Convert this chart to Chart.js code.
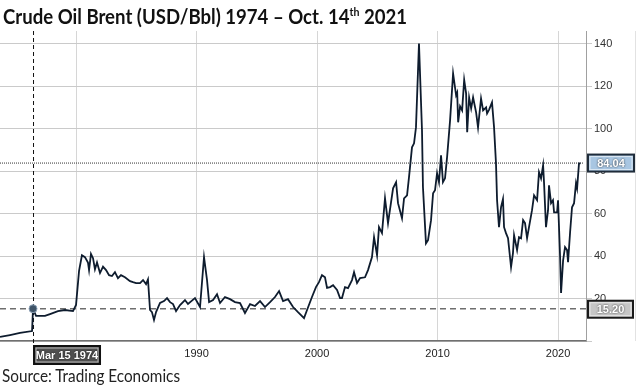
<!DOCTYPE html>
<html lang="en">
<head>
<meta charset="UTF-8">
<title>Crude Oil Brent (USD/Bbl) 1974 – Oct. 14th 2021</title>
<script src="https://cdn.jsdelivr.net/npm/chart.js"></script>
<style>
    body { margin: 0; background: #fff; font-family: Lato, Arial, sans-serif; }
    .wrap { position: relative; width: 639px; height: 390px; }
    .title { position: absolute; left: 3px; top: 3px; font-weight: bold; font-size: 21px; color: #111; white-space: nowrap; transform: scaleX(0.885); transform-origin: left top; }
    .title sup { font-size: 12px; vertical-align: 8px; line-height: 0; }
    .source { position: absolute; left: 2px; top: 365px; font-size: 17px; color: #222; white-space: nowrap; transform: scaleX(0.9); transform-origin: left top; }
    canvas { position: absolute; left: 0; top: 0; }
</style>
</head>
<body>
<div class="wrap">
    <canvas id="brentChart" width="639" height="390"></canvas>
    <div class="title">Crude Oil Brent (USD/Bbl) 1974 – Oct. 14<sup>th</sup> 2021</div>
    <div class="source">Source: Trading Economics</div>
</div>

<script>
// values (decimal years, USD per barrel)
const years = [
    1973.69, 1974.52, 1975.35, 1976.35, 1976.43, 1976.68, 1977.42, 1977.84, 1978.50, 1979.08,
    1979.75, 1980.00, 1980.25, 1980.49, 1980.74, 1980.99, 1981.08, 1981.24, 1981.41, 1981.57,
    1981.74, 1981.99, 1982.24, 1982.49, 1982.74, 1982.98, 1983.23, 1983.48, 1983.73, 1984.06,
    1984.48, 1984.73, 1984.98, 1985.31, 1985.56, 1985.81, 1985.97, 1986.14, 1986.30, 1986.47,
    1986.64, 1986.97, 1987.30, 1987.55, 1987.80, 1988.05, 1988.30, 1988.63, 1989.04, 1989.29,
    1989.62, 1989.87, 1990.29, 1990.62, 1990.87, 1991.04, 1991.37, 1991.70, 1991.95, 1992.36,
    1992.78, 1993.19, 1993.61, 1994.02, 1994.44, 1994.85, 1995.27, 1995.68, 1996.10, 1996.51,
    1996.85, 1997.18, 1997.59, 1998.01, 1998.42, 1998.92, 1999.17, 1999.58, 1999.91, 2000.16,
    2000.41, 2000.66, 2000.83, 2001.08, 2001.33, 2001.66, 2001.91, 2002.07, 2002.32, 2002.57,
    2002.90, 2003.07, 2003.32, 2003.57, 2003.98, 2004.23, 2004.56, 2004.73, 2004.98, 2005.14,
    2005.39, 2005.64, 2005.89, 2006.14, 2006.31, 2006.56, 2006.72, 2007.05, 2007.22, 2007.47,
    2007.63, 2007.88, 2008.05, 2008.21, 2008.46, 2008.71, 2008.79, 2009.04, 2009.21, 2009.46,
    2009.63, 2009.79, 2009.96, 2010.12, 2010.29, 2010.45, 2010.62, 2010.79, 2011.04, 2011.29,
    2011.54, 2011.63, 2011.71, 2011.87, 2012.04, 2012.21, 2012.37, 2012.46, 2012.62, 2012.79,
    2012.95, 2013.20, 2013.36, 2013.61, 2013.78, 2014.03, 2014.11, 2014.28, 2014.52, 2014.69,
    2014.85, 2014.94, 2015.10, 2015.27, 2015.43, 2015.52, 2015.68, 2015.85, 2016.10, 2016.26,
    2016.35, 2016.60, 2016.76, 2016.93, 2017.10, 2017.26, 2017.43, 2017.59, 2017.84, 2018.01,
    2018.26, 2018.42, 2018.59, 2018.76, 2018.84, 2019.00, 2019.17, 2019.25, 2019.42, 2019.58,
    2019.67, 2019.92, 2020.00, 2020.17, 2020.25, 2020.42, 2020.58, 2020.75, 2020.83, 2021.00,
    2021.16, 2021.33, 2021.49, 2021.58, 2021.74, 2021.79
];
const brent = [
    1.9, 2.8, 3.8, 4.7, 15.2, 11.8, 11.8, 12.7, 14.1, 14.6,
    14.1, 17.0, 33.0, 40.4, 39.5, 37.0, 33.4, 41.0, 39.0, 33.8,
    37.0, 32.0, 35.0, 33.4, 31.0, 30.6, 32.4, 29.6, 31.0, 30.0,
    28.2, 27.7, 27.3, 27.3, 28.7, 26.8, 29.0, 14.6, 13.6, 9.9,
    13.6, 17.9, 18.8, 20.2, 18.3, 17.4, 14.1, 16.9, 19.3, 17.4,
    19.0, 20.2, 16.0, 39.5, 28.7, 18.3, 19.3, 22.0, 17.9, 20.7,
    19.7, 18.3, 17.9, 13.2, 17.4, 16.5, 18.8, 16.0, 18.3, 20.7,
    23.5, 18.8, 19.7, 16.0, 13.6, 10.8, 14.6, 20.7, 25.4, 27.7,
    31.0, 30.0, 25.0, 25.4, 26.3, 24.0, 20.2, 20.2, 25.4, 24.9,
    28.7, 32.4, 27.3, 29.6, 30.0, 33.4, 39.5, 48.9, 40.4, 53.6,
    50.8, 67.2, 55.5, 65.3, 71.9, 74.8, 64.9, 57.8, 67.2, 68.6,
    77.1, 91.2, 93.1, 100.6, 140.1, 99.2, 72.4, 46.0, 47.5, 56.9,
    69.6, 71.0, 79.0, 74.8, 87.4, 74.8, 76.6, 86.5, 103.9, 126.0,
    115.7, 117.0, 103.0, 110.5, 108.6, 123.0, 116.6, 98.3, 114.7, 109.5,
    114.7, 107.7, 100.6, 114.2, 108.6, 110.0, 107.2, 109.0, 112.4, 100.6,
    83.7, 66.3, 53.6, 63.0, 66.8, 53.6, 50.8, 48.4, 34.8, 41.4,
    49.8, 42.8, 48.9, 48.4, 56.9, 55.5, 48.4, 53.6, 61.6, 68.6,
    66.3, 79.5, 76.6, 82.7, 74.3, 53.6, 61.6, 73.3, 64.9, 66.3,
    60.6, 60.6, 66.3, 39.5, 22.6, 38.0, 44.2, 42.8, 37.1, 51.2,
    63.0, 64.9, 74.3, 71.9, 83.7, 84.04
];
const xTickYears = [1980, 1990, 2000, 2010, 2020];
const yTickValues = [0, 20, 40, 60, 80, 100, 120, 140];
const markYear = 1976.43;
const markPrice = 15.20;
const markLabel = 'Mar 15 1974';
const lastPrice = 84.04;

// little label box like the ones on the axis
function drawBox(ctx, x, y, w, h, text, fill, border) {
    ctx.save();
    ctx.fillStyle = fill;
    ctx.fillRect(x, y, w, h);
    ctx.strokeStyle = border;
    ctx.lineWidth = 2;
    ctx.strokeRect(x, y, w, h);
    ctx.strokeStyle = 'rgba(255,255,255,0.6)';
    ctx.lineWidth = 1;
    ctx.strokeRect(x + 2, y + 2, w - 4, h - 4);
    ctx.font = 'bold 11px Arial';
    ctx.textAlign = 'center';
    ctx.textBaseline = 'middle';
    ctx.shadowColor = 'rgba(0,0,0,0.8)';
    ctx.shadowBlur = 2;
    ctx.fillStyle = '#fff';
    ctx.fillText(text, x + w / 2, y + h / 2 + 1);
    ctx.restore();
}

const markers = {
    id: 'markers',
    beforeDatasetsDraw(chart) {
        const { ctx, chartArea: a, scales: { x, y } } = chart;
        const mx = x.getPixelForValue(markYear);
        const my = y.getPixelForValue(markPrice);
        const ly = y.getPixelForValue(lastPrice);
        ctx.save();
        // current price, dotted
        ctx.strokeStyle = '#333';
        ctx.lineWidth = 1;
        ctx.setLineDash([1, 1]);
        ctx.beginPath();
        ctx.moveTo(a.left, ly + 0.5);
        ctx.lineTo(a.right - 3, ly + 0.5);
        ctx.stroke();
        // start price, dashed
        ctx.strokeStyle = '#6e6e6e';
        ctx.lineWidth = 1.5;
        ctx.setLineDash([6, 4]);
        ctx.beginPath();
        ctx.moveTo(a.left, my);
        ctx.lineTo(a.right, my);
        ctx.stroke();
        // crosshair
        ctx.strokeStyle = '#111';
        ctx.lineWidth = 1;
        ctx.setLineDash([4, 3]);
        ctx.beginPath();
        ctx.moveTo(mx + 0.5, a.top);
        ctx.lineTo(mx + 0.5, a.bottom + 5);
        ctx.stroke();
        ctx.restore();
    },
    afterDraw(chart) {
        const { ctx, chartArea: a, scales: { x, y } } = chart;
        const mx = x.getPixelForValue(markYear);
        const my = y.getPixelForValue(markPrice);
        const ly = y.getPixelForValue(lastPrice);
        ctx.save();
        // thin frame on the far right
        ctx.strokeStyle = '#e2e2e2';
        ctx.lineWidth = 1;
        ctx.beginPath();
        ctx.moveTo(chart.width - 3.5, a.top);
        ctx.lineTo(chart.width - 3.5, a.bottom);
        ctx.stroke();
        // point on the crosshair
        ctx.beginPath();
        ctx.arc(mx, my, 4, 0, Math.PI * 2);
        ctx.fillStyle = '#3f5468';
        ctx.fill();
        ctx.strokeStyle = '#8ea3b8';
        ctx.lineWidth = 1;
        ctx.stroke();
        ctx.restore();

        drawBox(ctx, a.right + 2, ly - 8, 46, 17, lastPrice.toFixed(2), '#a8c6e2', '#1f2c3a');
        drawBox(ctx, a.right + 2, my - 8, 45, 17, markPrice.toFixed(2), '#c6c6c6', '#1a1a1a');
        drawBox(ctx, mx + 1, a.bottom + 5, 66, 18, markLabel, '#505050', '#111');
    }
};

const ctx = document.getElementById('brentChart').getContext('2d');

const brentChart = new Chart(ctx, {
    type: 'line',
    data: {
        datasets: [{
            label: 'Brent',
            data: years.map((yr, i) => ({ x: yr, y: brent[i] })),
            borderColor: '#0e1c2e',
            borderWidth: 1.8,
            pointRadius: 0,
            tension: 0,
            fill: false
        }]
    },
    options: {
        responsive: false,
        animation: false,
        layout: { padding: { top: 31, left: 0, right: 0, bottom: 0 } },
        plugins: {
            legend: { display: false },
            tooltip: { enabled: false }
        },
        scales: {
            x: {
                type: 'linear',
                min: 1973.69,
                max: 2022.32,
                afterBuildTicks: (scale) => { scale.ticks = xTickYears.map(v => ({ value: v })); },
                afterFit: (scale) => { scale.height = 49; },
                grid: { color: '#d6d6d6', drawTicks: false },
                border: { display: true, color: '#707070', width: 1.5 },
                ticks: {
                    padding: 6,
                    color: '#222',
                    font: { family: 'Arial', size: 11 },
                    maxRotation: 0,
                    callback: (v) => String(v)
                }
            },
            y: {
                position: 'right',
                min: 0,
                max: 146,
                afterBuildTicks: (scale) => { scale.ticks = yTickValues.map(v => ({ value: v })); },
                afterFit: (scale) => { scale.width = 53; },
                grid: { color: '#cacaca', tickLength: 6 },
                border: { display: true, color: '#a0a0a0', width: 1 },
                ticks: {
                    padding: 2,
                    color: '#333',
                    font: { family: 'Arial', size: 11 },
                    callback: (v) => v === 0 ? '' : String(v)
                }
            }
        }
    },
    plugins: [markers]
});
</script>
</body>
</html>
